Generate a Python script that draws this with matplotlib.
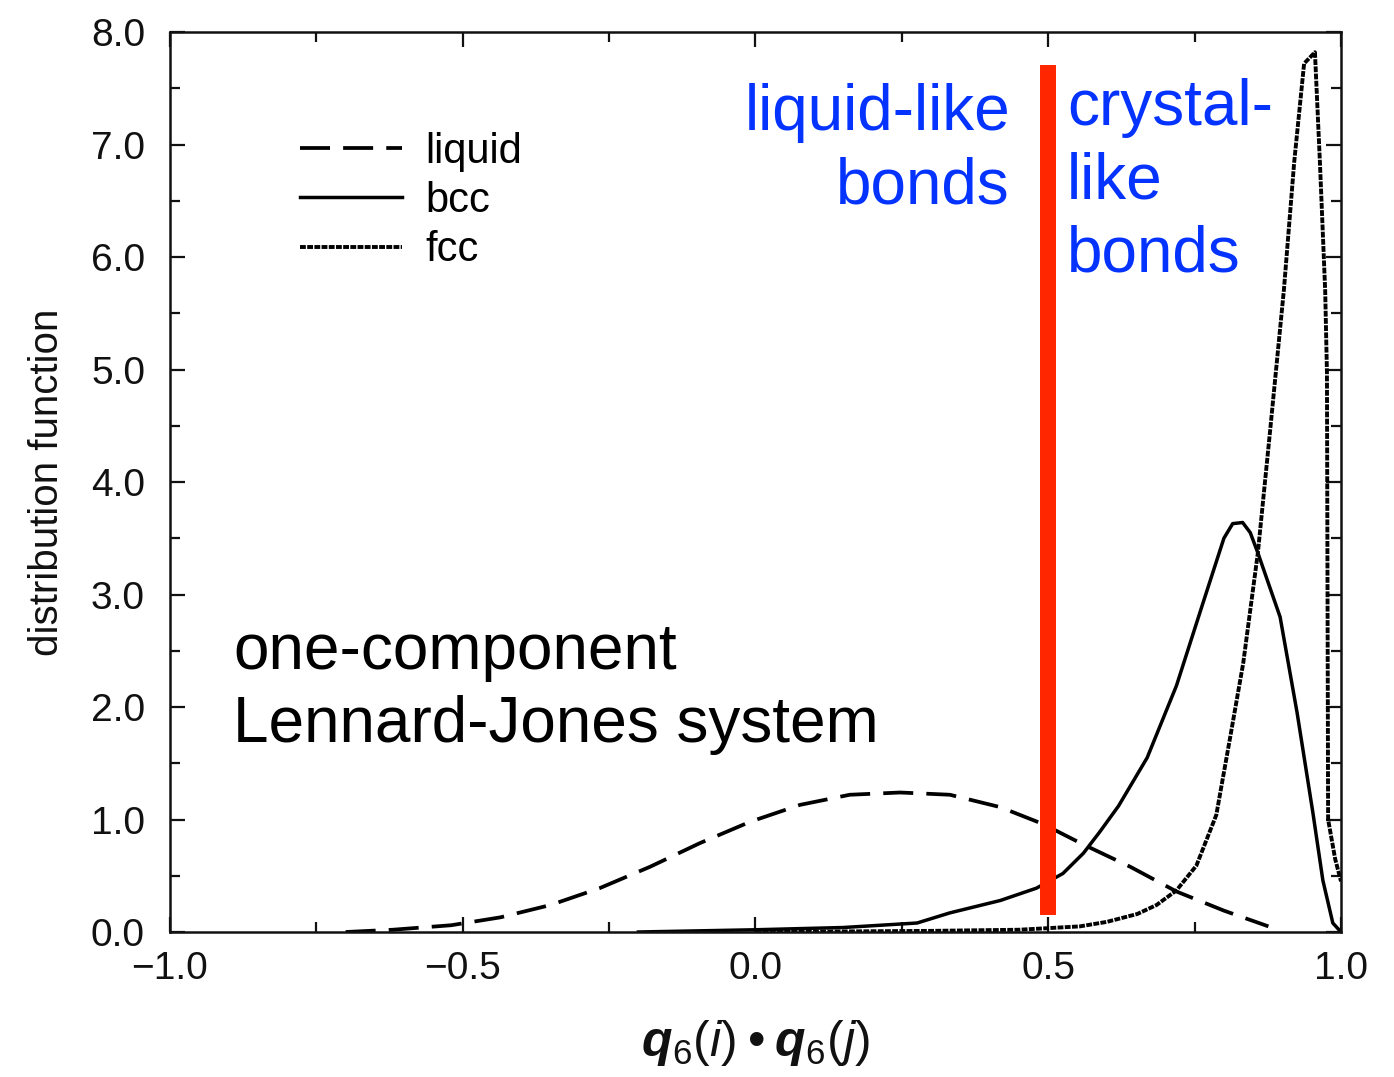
import matplotlib
matplotlib.use('Agg')
import matplotlib.pyplot as plt
from matplotlib.ticker import MultipleLocator

plt.rcParams['font.family'] = ['Liberation Sans', 'DejaVu Sans']
plt.rcParams['mathtext.fontset'] = 'custom'
plt.rcParams['mathtext.rm'] = 'Liberation Sans'
plt.rcParams['mathtext.it'] = 'Liberation Sans:italic'
plt.rcParams['mathtext.bf'] = 'Liberation Sans:bold:italic'

# ---- data ----
liquid_x = [-0.70, -0.62, -0.52, -0.436, -0.35, -0.266, -0.18, -0.095, -0.009,
            0.076, 0.161, 0.247, 0.332, 0.418, 0.491, 0.559, 0.64, 0.719, 0.80, 0.876]
liquid_y = [0.0, 0.02, 0.06, 0.13, 0.24, 0.39, 0.58, 0.79, 0.98,
            1.13, 1.22, 1.24, 1.22, 1.11, 0.96, 0.78, 0.58, 0.36, 0.19, 0.05]

bcc_x = [-0.20, 0.0, 0.15, 0.276, 0.332, 0.418, 0.48, 0.525, 0.56, 0.588, 0.62,
         0.669, 0.719, 0.764, 0.80, 0.815, 0.832, 0.845, 0.858, 0.896, 0.925,
         0.952, 0.969, 0.986, 1.0]
bcc_y = [0.0, 0.02, 0.04, 0.08, 0.17, 0.28, 0.39, 0.52, 0.70, 0.89, 1.12,
         1.55, 2.19, 2.92, 3.50, 3.63, 3.64, 3.55, 3.37, 2.80, 1.95,
         1.06, 0.46, 0.08, 0.0]

fcc_x = [0.0, 0.30, 0.45, 0.554, 0.60, 0.652, 0.685, 0.719, 0.753, 0.787, 0.81,
         0.833, 0.858, 0.879, 0.9025, 0.92, 0.937, 0.9555, 0.964, 0.973, 0.976,
         0.977, 0.978, 0.99, 1.0]
fcc_y = [0.0, 0.01, 0.02, 0.05, 0.09, 0.16, 0.24, 0.37, 0.59, 1.04, 1.71,
         2.39, 3.37, 4.46, 5.71, 6.84, 7.72, 7.82, 6.84, 5.70, 4.97,
         3.0, 1.0, 0.65, 0.45]

series_labels = ['liquid', 'bcc', 'fcc']

xticks = [-1.0, -0.5, 0.0, 0.5, 1.0]
xtick_labels = ['\u22121.0', '\u22120.5', '0.0', '0.5', '1.0']
yticks = [0, 1, 2, 3, 4, 5, 6, 7, 8]
ytick_labels = ['0.0', '1.0', '2.0', '3.0', '4.0', '5.0', '6.0', '7.0', '8.0']

divider_x = 0.5
divider_ymin = 0.15
divider_ymax = 7.71

# ---- figure ----
fig = plt.figure(figsize=(13.94, 10.77), dpi=100)
ax = fig.add_axes([0.12195, 0.13463, 0.84003, 0.83565])

l1, = ax.plot(liquid_x, liquid_y, color='black', lw=2.7, ls=(0, (8, 3.5)),
              label=series_labels[0])
l2, = ax.plot(bcc_x, bcc_y, color='black', lw=2.5, label=series_labels[1])
l3, = ax.plot(fcc_x, fcc_y, color='black', lw=2.8, ls=(0, (1.5, 0.35)),
              label=series_labels[2])

ax.vlines(divider_x, divider_ymin, divider_ymax, color='#ff2600',
          linewidth=11.5, capstyle='butt', zorder=5)

ax.set_xlim(-1, 1)
ax.set_ylim(0, 8)
ax.set_xticks(xticks, labels=xtick_labels)
ax.set_yticks(yticks, labels=ytick_labels)
ax.xaxis.set_minor_locator(MultipleLocator(0.25))
ax.yaxis.set_minor_locator(MultipleLocator(0.5))
ax.tick_params(which='both', direction='in', top=True, right=True,
               colors='#111111', width=1.6)
ax.tick_params(which='major', length=11, labelsize=28)
ax.tick_params(which='minor', length=7)
ax.tick_params(axis='x', which='major', pad=14)
ax.tick_params(axis='y', which='major', pad=18)
for s in ax.spines.values():
    s.set_linewidth(1.8)
    s.set_color('#111111')

ax.set_ylabel('distribution function', fontsize=29, labelpad=18, color='#111111')
ax.set_xlabel(r'$\mathbf{q}_{6}(\mathit{i})$' + '\u2009\u2022\u2009' + r'$\mathbf{q}_{6}(\mathit{j})$',
              fontsize=36, labelpad=22, color='#111111')

leg = ax.legend(handles=[l1, l2, l3], loc='upper left',
                bbox_to_anchor=(0.111, 0.889), frameon=False, borderpad=0,
                fontsize=30, handlelength=2.45, handletextpad=0.55,
                labelspacing=0.22, borderaxespad=0)

blue = '#0433ff'
ax.text(0.4347, 6.48, 'liquid-like\nbonds', color=blue, fontsize=46,
        ha='right', va='baseline', multialignment='right', linespacing=1.285)
ax.text(0.532, 5.867, 'crystal-\nlike\nbonds', color=blue, fontsize=46,
        ha='left', va='baseline', multialignment='left', linespacing=1.285)
ax.text(-0.892, 1.689, 'one-component\nLennard-Jones system', color='black',
        fontsize=46, ha='left', va='baseline', multialignment='left',
        linespacing=1.285)

fig.savefig('out.png', dpi=100)
